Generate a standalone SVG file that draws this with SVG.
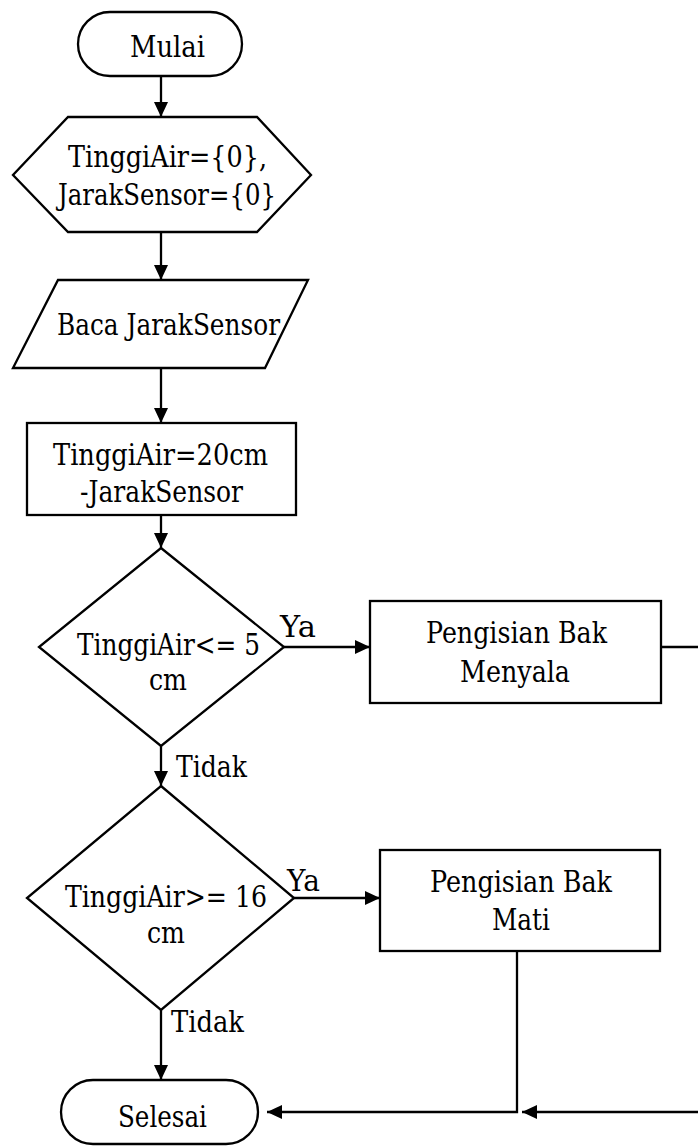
<svg xmlns="http://www.w3.org/2000/svg" width="698" height="1147" viewBox="0 0 698 1147">
<style>
.s{fill:#fff;stroke:#000;stroke-width:2.3}
.c{fill:none;stroke:#000;stroke-width:2.3}
.t{font-family:'DejaVu Serif',serif;font-size:29px;fill:#000}
</style>
<defs>
<marker id="ah" markerUnits="userSpaceOnUse" markerWidth="15" markerHeight="14" refX="15" refY="7" orient="auto">
<path d="M0,0 L15,7 L0,14 z" fill="#000"/>
</marker>
</defs>
<rect width="698" height="1147" fill="#fff"/>
<g id="connectors">
<path class="c" d="M161,77 V117" marker-end="url(#ah)"/>
<path class="c" d="M161,232 V280" marker-end="url(#ah)"/>
<path class="c" d="M161,368 V423" marker-end="url(#ah)"/>
<path class="c" d="M161,515 V548" marker-end="url(#ah)"/>
<path class="c" d="M284,647 H370" marker-end="url(#ah)"/>
<path class="c" d="M161,746 V786" marker-end="url(#ah)"/>
<path class="c" d="M294,898 H380" marker-end="url(#ah)"/>
<path class="c" d="M161,1010 V1080" marker-end="url(#ah)"/>
<path class="c" d="M661,647 H706 V1112 H522" marker-end="url(#ah)"/>
<path class="c" d="M517,951 V1112 H267" marker-end="url(#ah)"/>
<g class="t">
<text x="280" y="637" textLength="36" lengthAdjust="spacingAndGlyphs">Ya</text>
<text x="176" y="777" textLength="71" lengthAdjust="spacingAndGlyphs">Tidak</text>
<text x="287" y="891" textLength="33" lengthAdjust="spacingAndGlyphs">Ya</text>
<text x="171" y="1032" textLength="73" lengthAdjust="spacingAndGlyphs">Tidak</text>
</g>
</g>
<g class="t">
<g id="mulai">
<rect class="s" x="78" y="12" width="164" height="64" rx="32"/>
<text x="130" y="57" textLength="75" lengthAdjust="spacingAndGlyphs">Mulai</text>
</g>
<g id="init">
<polygon class="s" points="68,117 257,117 311,175 257,232 68,232 13,175"/>
<text x="68" y="167" textLength="199" lengthAdjust="spacingAndGlyphs">TinggiAir={0},</text>
<text x="58" y="205" textLength="218" lengthAdjust="spacingAndGlyphs">JarakSensor={0}</text>
</g>
<g id="baca">
<polygon class="s" points="58,280 308,280 265,368 13,368"/>
<text x="57" y="335" textLength="223" lengthAdjust="spacingAndGlyphs">Baca JarakSensor</text>
</g>
<g id="hitung">
<rect class="s" x="27" y="423" width="269" height="92"/>
<text x="53" y="465" textLength="215" lengthAdjust="spacingAndGlyphs">TinggiAir=20cm</text>
<text x="80" y="502" textLength="163" lengthAdjust="spacingAndGlyphs">-JarakSensor</text>
</g>
<g id="cek1">
<polygon class="s" points="161,548 284,647 161,746 39,647"/>
<text x="77" y="655" textLength="183" lengthAdjust="spacingAndGlyphs">TinggiAir&lt;= 5</text>
<text x="149" y="690" textLength="38" lengthAdjust="spacingAndGlyphs">cm</text>
</g>
<g id="nyala">
<rect class="s" x="370" y="601" width="291" height="102"/>
<text x="426" y="643" textLength="181" lengthAdjust="spacingAndGlyphs">Pengisian Bak</text>
<text x="460" y="682" textLength="110" lengthAdjust="spacingAndGlyphs">Menyala</text>
</g>
<g id="cek2">
<polygon class="s" points="161,786 294,898 161,1010 27,898"/>
<text x="65" y="907" textLength="202" lengthAdjust="spacingAndGlyphs">TinggiAir&gt;= 16</text>
<text x="147" y="943" textLength="38" lengthAdjust="spacingAndGlyphs">cm</text>
</g>
<g id="mati">
<rect class="s" x="380" y="850" width="280" height="101"/>
<text x="430" y="892" textLength="182" lengthAdjust="spacingAndGlyphs">Pengisian Bak</text>
<text x="492" y="930" textLength="58" lengthAdjust="spacingAndGlyphs">Mati</text>
</g>
<g id="selesai">
<rect class="s" x="61" y="1080" width="197" height="64" rx="32"/>
<text x="118" y="1127" textLength="89" lengthAdjust="spacingAndGlyphs">Selesai</text>
</g>
</g>
</svg>
